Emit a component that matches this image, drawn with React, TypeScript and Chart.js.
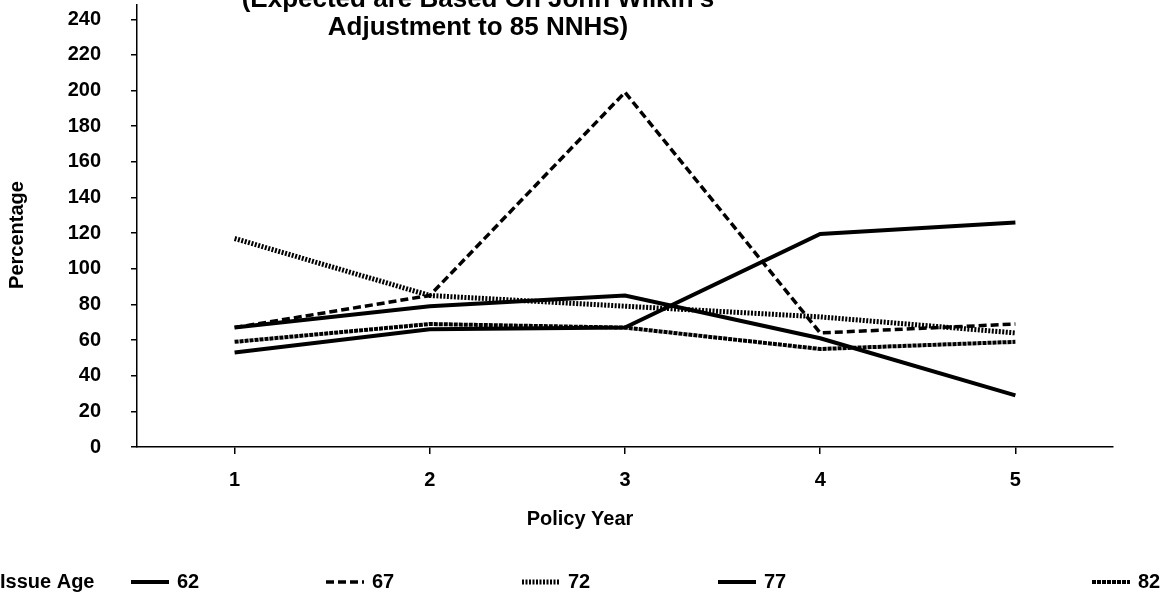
import { useEffect, useRef } from "react";
import { Chart, registerables } from "chart.js";

Chart.register(...registerables);

// Policy years along the x axis
const policyYears = ["1", "2", "3", "4", "5"];

// Actual-to-expected mortality, percentage, by issue age
const issueAges = ["62", "67", "72", "77", "82"];
const age62 = [53, 66, 67, 119.5, 126];
const age67 = [67, 85, 199, 64, 69];
const age72 = [117, 85, 79, 73, 64];
const age77 = [67, 79, 85, 61, 29];
const age82 = [59, 69, 67, 55, 59];

// Y-axis tick values
const yTicks = [0, 20, 40, 60, 80, 100, 120, 140, 160, 180, 200, 220, 240];

const titleLines = ["(Expected are Based On John Wilkin's", "Adjustment to 85 NNHS)"];
const xTitle = "Policy Year";
const yTitle = "Percentage";
const legendTitle = "Issue Age";

const FONT = "'Liberation Sans', Arial, sans-serif";

const lineStyles = [
  { width: 4, dash: [] as number[] },
  { width: 3.5, dash: [8, 4] },
  { width: 5, dash: [2, 1.5] },
  { width: 4, dash: [] as number[] },
  { width: 4, dash: [4, 1] },
];

const seriesValues = [age62, age67, age72, age77, age82];

// Plot box edges in canvas pixels
const PLOT = { left: 137, right: 1113, top: 5, bottom: 447 };

const overlayPlugin = {
  id: "overlayText",
  afterDraw(chart: any) {
    const { ctx } = chart;
    ctx.save();
    ctx.fillStyle = "#000";
    ctx.textBaseline = "middle";

    // Title (top line runs off the top edge)
    ctx.textAlign = "center";
    ctx.font = `bold 26px ${FONT}`;
    ctx.fillText(titleLines[0], 478, 0);
    ctx.fillText(titleLines[1], 478, 28);

    // Axis titles
    ctx.font = `bold 20px ${FONT}`;
    ctx.fillText(xTitle, 580, 519);
    ctx.save();
    ctx.translate(17, 235);
    ctx.rotate(-Math.PI / 2);
    ctx.fillText(yTitle, 0, 0);
    ctx.restore();

    // Legend row
    const y = 582;
    ctx.textAlign = "left";
    ctx.fillText(legendTitle, 0, y);
    const lineStarts = [131, 326, 522, 718, 1092];
    const lineLen = 38;
    chart.data.datasets.forEach((ds: any, i: number) => {
      const x0 = lineStarts[i];
      ctx.save();
      ctx.strokeStyle = "#000";
      ctx.lineWidth = ds.borderWidth;
      ctx.setLineDash(ds.borderDash || []);
      ctx.beginPath();
      ctx.moveTo(x0, y);
      ctx.lineTo(x0 + lineLen, y);
      ctx.stroke();
      ctx.restore();
      ctx.fillText(ds.label, x0 + lineLen + 8, y);
    });
    ctx.restore();
  },
};

export default function App() {
  const canvasRef = useRef<HTMLCanvasElement | null>(null);

  useEffect(() => {
    const canvas = canvasRef.current;
    if (!canvas) return;
    const chart = new Chart(canvas, {
      type: "line",
      data: {
        labels: policyYears,
        datasets: seriesValues.map((values, i) => ({
          label: issueAges[i],
          data: values,
          borderColor: "#000",
          backgroundColor: "#000",
          borderWidth: lineStyles[i].width,
          borderDash: lineStyles[i].dash,
          pointRadius: 0,
          tension: 0,
          fill: false,
        })),
      },
      options: {
        animation: false,
        responsive: true,
        maintainAspectRatio: false,
        layout: { autoPadding: false, padding: { top: 0, right: 0, left: 0, bottom: 0 } },
        plugins: {
          legend: { display: false },
          title: { display: false },
          tooltip: { enabled: false },
        },
        scales: {
          x: {
            type: "category",
            offset: true,
            afterFit: (scale: any) => {
              scale.height = 600 - PLOT.bottom;
            },
            grid: {
              offset: false,
              drawOnChartArea: false,
              drawTicks: true,
              tickLength: 7,
              color: "#000",
              lineWidth: 1.5,
            },
            border: { display: true, color: "#000", width: 1.5 },
            ticks: {
              color: "#000",
              font: { family: FONT, size: 20, weight: "bold" },
              padding: 14,
              maxRotation: 0,
            },
          },
          y: {
            min: 0,
            max: 248,
            afterFit: (scale: any) => {
              scale.width = PLOT.left;
            },
            afterBuildTicks: (scale: any) => {
              scale.ticks = yTicks.map((v) => ({ value: v }));
            },
            grid: {
              drawOnChartArea: false,
              drawTicks: true,
              tickLength: 6,
              color: "#000",
              lineWidth: 1.5,
            },
            border: { display: true, color: "#000", width: 1.5 },
            ticks: {
              color: "#000",
              font: { family: FONT, size: 20, weight: "bold" },
              padding: 30,
            },
          },
        },
      },
      plugins: [
        overlayPlugin,
        {
          // pin the plot box to fixed edges after the automatic layout
          id: "pinArea",
          afterLayout(chart: any) {
            const area = chart.chartArea;
            area.left = PLOT.left;
            area.right = PLOT.right;
            area.top = PLOT.top;
            area.bottom = PLOT.bottom;
            area.width = PLOT.right - PLOT.left;
            area.height = PLOT.bottom - PLOT.top;
            const x = chart.scales.x;
            const y = chart.scales.y;
            x.left = PLOT.left;
            x.right = PLOT.right;
            x.width = PLOT.right - PLOT.left;
            x.top = PLOT.bottom;
            y.top = PLOT.top;
            y.bottom = PLOT.bottom;
            y.height = PLOT.bottom - PLOT.top;
            y.left = 0;
            y.right = PLOT.left;
            x.configure();
            y.configure();
          },
        },
      ],
    });
    return () => chart.destroy();
  }, []);

  return (
    <div style={{ position: "fixed", left: 0, top: 0, width: 1175, height: 600, background: "#fff" }}>
      <canvas ref={canvasRef} />
    </div>
  );
}
